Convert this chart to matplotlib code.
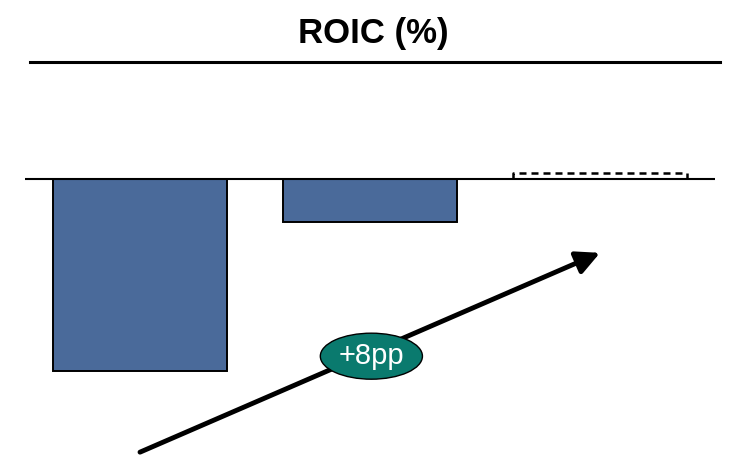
import matplotlib.pyplot as plt
from matplotlib.lines import Line2D
from matplotlib.patches import Ellipse

plt.rcParams['font.family'] = ['Liberation Sans', 'DejaVu Sans']

# ROIC per period (%), the last one is a target shown as a dashed outline
periods = ["A", "B", "C"]
roic = [-7.8, -1.75, 0.25]
is_target = [False, False, True]
change_label = "+8pp"

BAR_COLOR = "#4A6A9A"
BADGE_COLOR = "#0A7A6E"

fig = plt.figure(figsize=(7.43, 4.62), dpi=100)
ax = fig.add_axes([25 / 743, 0, 690 / 743, 392 / 462])

x = list(range(len(periods)))
for xi, val, target in zip(x, roic, is_target):
    if target:
        # open-bottom dashed outline, the baseline closes it
        rect = ax.bar(xi, val, width=0.758, facecolor="none",
                      edgecolor="none")[0]
        x0, w, h = rect.get_x(), rect.get_width(), rect.get_height()
        ax.plot([x0, x0, x0 + w, x0 + w], [0, h, h, 0], color="black",
                linewidth=1.8, linestyle=(0, (2.8, 2.0)), zorder=2)
    else:
        ax.bar(xi, val, width=0.758, color=BAR_COLOR, edgecolor="black",
               linewidth=1.4, zorder=2)

ax.axhline(0, color="black", linewidth=1.5, zorder=3)
ax.set_xlim(-0.5, 2.5)
ax.set_ylim(-11.5, 4.43)
ax.axis("off")

# trend arrow from the first bar to the target
ax.annotate("", xy=(2.0, -3.0), xytext=(0.0, -11.1),
            arrowprops=dict(arrowstyle="-|>,head_length=0.7,head_width=0.35",
                            lw=3.5, color="black", mutation_scale=20,
                            shrinkA=0, shrinkB=0),
            zorder=4)
ax.add_patch(Ellipse((1.006, -7.2), 0.444, 1.87, facecolor=BADGE_COLOR,
                     edgecolor="black", linewidth=1.0, zorder=5))
ax.text(1.006, -7.2, change_label, ha="center", va="center", fontsize=21,
        color="white", zorder=6)

fig.text(373 / 743, 1 - 43 / 462, "ROIC (%)", ha="center", va="baseline",
         fontsize=25, fontweight="bold")
fig.add_artist(Line2D([30 / 743, 720 / 743], [1 - 62 / 462, 1 - 62 / 462],
                      color="black", linewidth=2.2, transform=fig.transFigure))

fig.savefig("out.png", dpi=100)
